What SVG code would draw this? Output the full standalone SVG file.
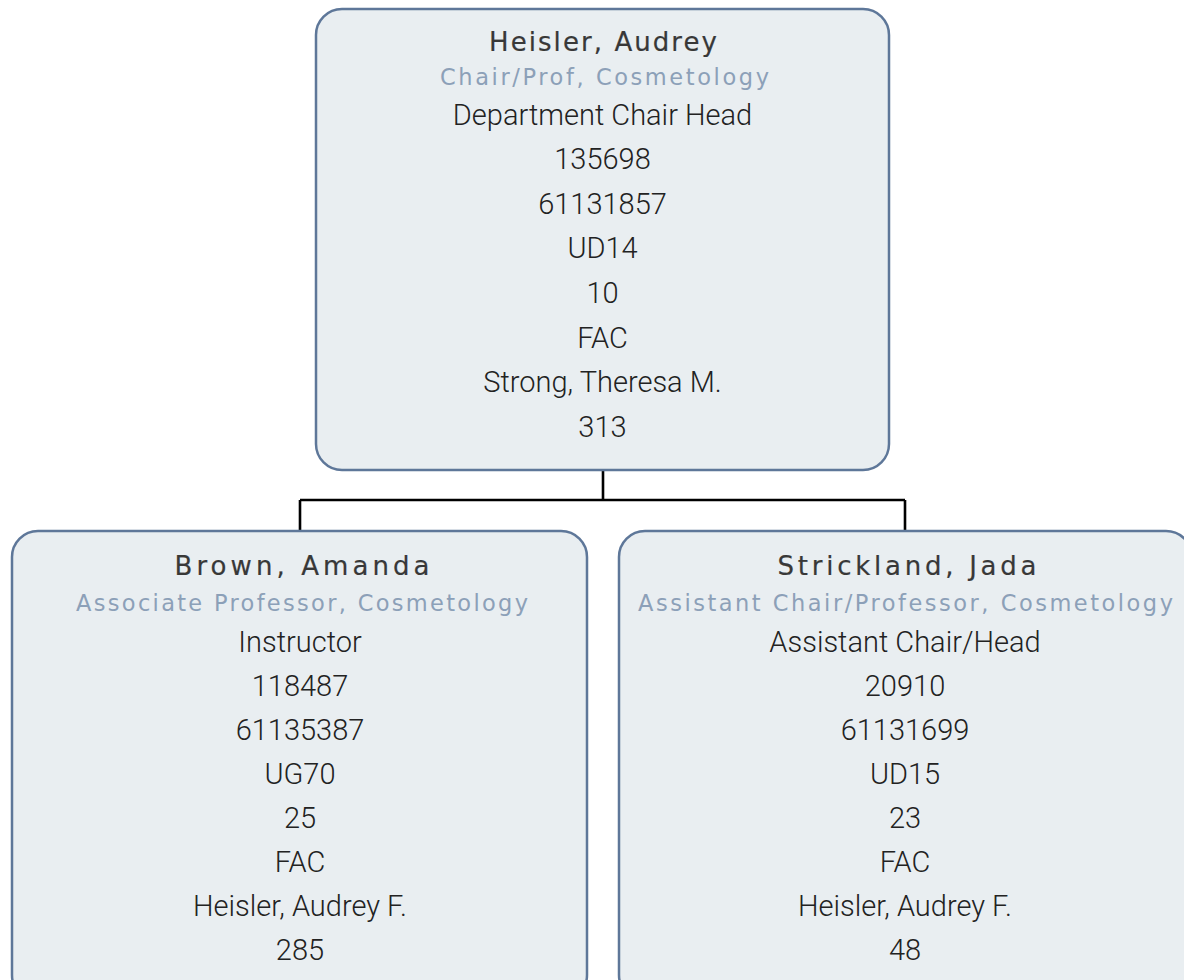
<svg xmlns="http://www.w3.org/2000/svg" width="1184" height="980" viewBox="0 0 1184 980">
<style>
.box{fill:#E9EEF1;stroke:#5E7799;stroke-width:2.5}
.nm{font-family:"DejaVu Sans",Verdana,sans-serif;font-size:26px;fill:#383838;stroke:#383838;stroke-width:0.2;text-anchor:middle}
.sub{font-family:"DejaVu Sans",Verdana,sans-serif;font-size:22.5px;fill:#8CA0B8;text-anchor:middle}
.ln{font-family:Roboto,"Liberation Sans",sans-serif;font-weight:300;font-size:29px;fill:#222;text-anchor:middle}
.con{fill:none;stroke:#000;stroke-width:2.6}
</style>
<g id="connectors">
<path class="con" d="M603 470V500M300 500H905M300 500V531M905 500V531"/>
</g>
<g id="node-heisler">
<rect class="box" x="316" y="9" width="573" height="461" rx="26"/>
<text class="nm" x="603" y="51" textLength="228" lengthAdjust="spacing">Heisler, Audrey</text>
<text class="sub" x="604.5" y="84.5" textLength="329" lengthAdjust="spacing">Chair/Prof, Cosmetology</text>
<text class="ln" x="602.5" y="124.5">Department Chair Head</text>
<text class="ln" x="602.5" y="169.1">135698</text>
<text class="ln" x="602.5" y="213.8">61131857</text>
<text class="ln" x="602.5" y="258.4">UD14</text>
<text class="ln" x="602.5" y="303">10</text>
<text class="ln" x="602.5" y="347.7">FAC</text>
<text class="ln" x="602.5" y="392.3">Strong, Theresa M.</text>
<text class="ln" x="602.5" y="437">313</text>
</g>
<g id="node-brown">
<rect class="box" x="12" y="531" width="575" height="470" rx="26"/>
<text class="nm" x="302" y="575" textLength="255" lengthAdjust="spacing">Brown, Amanda</text>
<text class="sub" x="302" y="610.5" textLength="452" lengthAdjust="spacing">Associate Professor, Cosmetology</text>
<text class="ln" x="300" y="652">Instructor</text>
<text class="ln" x="300" y="696">118487</text>
<text class="ln" x="300" y="740">61135387</text>
<text class="ln" x="300" y="784">UG70</text>
<text class="ln" x="300" y="828">25</text>
<text class="ln" x="300" y="872">FAC</text>
<text class="ln" x="300" y="916">Heisler, Audrey F.</text>
<text class="ln" x="300" y="960">285</text>
</g>
<g id="node-strickland">
<rect class="box" x="619" y="531" width="573" height="470" rx="26"/>
<text class="nm" x="907" y="575" textLength="259" lengthAdjust="spacing">Strickland, Jada</text>
<text class="sub" x="905.5" y="610.5" textLength="535" lengthAdjust="spacing">Assistant Chair/Professor, Cosmetology</text>
<text class="ln" x="905" y="652">Assistant Chair/Head</text>
<text class="ln" x="905" y="696">20910</text>
<text class="ln" x="905" y="740">61131699</text>
<text class="ln" x="905" y="784">UD15</text>
<text class="ln" x="905" y="828">23</text>
<text class="ln" x="905" y="872">FAC</text>
<text class="ln" x="905" y="916">Heisler, Audrey F.</text>
<text class="ln" x="905" y="960">48</text>
</g>
</svg>
